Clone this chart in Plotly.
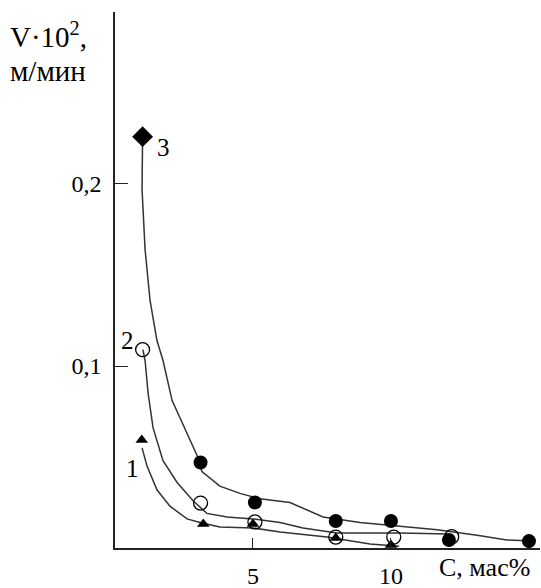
import plotly.graph_objects as go

# Marker data (C, mass %; V*10^2, m/min)
s3_first_x = [1.0]
s3_first_y = [0.226]
s3_x = [3.1, 5.07, 8.0, 10.0, 12.1, 15.0]
s3_y = [0.047, 0.025, 0.0148, 0.0148, 0.0044, 0.0038]

s2_x = [1.0, 3.1, 5.07, 8.0, 10.1, 12.2]
s2_y = [0.109, 0.0247, 0.0143, 0.006, 0.006, 0.0062]

s1_x = [0.97, 3.2, 5.0, 8.0, 10.0]
s1_y = [0.0593, 0.0132, 0.0132, 0.0055, 0.0016]

# Fitted curves
c3_x = [1.0, 0.98, 1.09, 1.27, 1.52, 1.74, 2.07, 2.54, 2.97, 3.15, 3.8, 4.53, 5.25, 6.34, 7.54, 8.88, 10.33, 11.67, 13.12, 14.2, 14.93]
c3_y = [0.226, 0.197, 0.164, 0.136, 0.114, 0.103, 0.081, 0.065, 0.051, 0.042, 0.034, 0.030, 0.027, 0.025, 0.017, 0.014, 0.012, 0.010, 0.007, 0.0044, 0.004]

c2_x = [1.01, 1.09, 1.2, 1.38, 1.74, 2.25, 2.83, 3.33, 4.06, 5.0, 5.98, 6.81, 8.04, 10.3, 12.1]
c2_y = [0.109, 0.103, 0.085, 0.066, 0.048, 0.036, 0.026, 0.019, 0.017, 0.016, 0.014, 0.011, 0.0082, 0.0082, 0.0077]

c1_x = [0.98, 1.16, 1.52, 1.99, 2.61, 3.08, 3.8, 5.0, 5.98, 7.68, 9.24, 10.3]
c1_y = [0.055, 0.045, 0.032, 0.023, 0.016, 0.014, 0.0115, 0.011, 0.0088, 0.006, 0.0022, 0.001]

y_tickvals = [0.1, 0.2]
y_ticktext = ["0,1", "0,2"]
x_tickvals = [5, 10]
x_ticktext = ["5", "10"]

FONT = "Liberation Serif"
LC = "#333333"

W, H = 541, 588
L, R, T, B = 115, 1, 12, 40

fig = go.Figure()
for cx, cy in [(c3_x, c3_y), (c2_x, c2_y), (c1_x, c1_y)]:
    fig.add_trace(go.Scatter(x=cx, y=cy, mode="lines",
                             line=dict(color=LC, width=1.5), hoverinfo="skip"))

fig.add_trace(go.Scatter(x=s3_first_x, y=s3_first_y, mode="markers",
                         marker=dict(symbol="diamond", size=16, color="black")))
fig.add_trace(go.Scatter(x=s3_x, y=s3_y, mode="markers",
                         marker=dict(symbol="circle", size=14, color="black")))
fig.add_trace(go.Scatter(x=s2_x, y=s2_y, mode="markers",
                         marker=dict(symbol="circle-open", size=14, color="black",
                                     line=dict(width=1.3, color="black"))))
fig.add_trace(go.Scatter(x=s1_x, y=s1_y, mode="markers",
                         marker=dict(symbol="triangle-up", size=11, color="black")))

fig.update_layout(
    width=W, height=H,
    margin=dict(l=L, r=R, t=T, b=B),
    paper_bgcolor="white", plot_bgcolor="white",
    showlegend=False,
    font=dict(family=FONT, size=24, color="black"),
    xaxis=dict(range=[0, 15.4], showgrid=False, zeroline=False, automargin=False,
               showline=True, linecolor="#222", linewidth=1.5,
               ticks="inside", ticklen=10, tickcolor="#222", tickwidth=1.2,
               tickvals=x_tickvals, ticktext=x_ticktext,
               ticklabelstandoff=5, tickfont=dict(family=FONT, size=24)),
    yaxis=dict(range=[0, 0.2945], showgrid=False, zeroline=False, automargin=False,
               showline=True, linecolor="#222", linewidth=1.5,
               ticks="inside", ticklen=13, tickcolor="#222", tickwidth=1.2,
               tickvals=y_tickvals, ticktext=y_ticktext,
               ticklabelstandoff=7, tickfont=dict(family=FONT, size=24)),
)

# annotations in figure pixel coords
ann = [
    (8, 35, "V·10<sup>2</sup>,", "left", 29),
    (8, 71, "м/мин", "left", 29),
    (437, 567, "C, мас%", "left", 26),
    (163, 147, "3", "center", 25),
    (127, 340, "2", "center", 25),
    (132, 468, "1", "center", 25),
]
for px, py, txt, xa, fs in ann:
    fig.add_annotation(x=(px - L) / (W - L - R), y=1 - (py - T) / (H - T - B),
                       xref="paper", yref="paper", text=txt, showarrow=False,
                       xanchor=xa, yanchor="middle",
                       font=dict(family=FONT, size=fs, color="black"))

fig.write_html("out.html", config={"displayModeBar": False},
               post_script="document.body.style.margin='0';document.body.style.padding='0';")
